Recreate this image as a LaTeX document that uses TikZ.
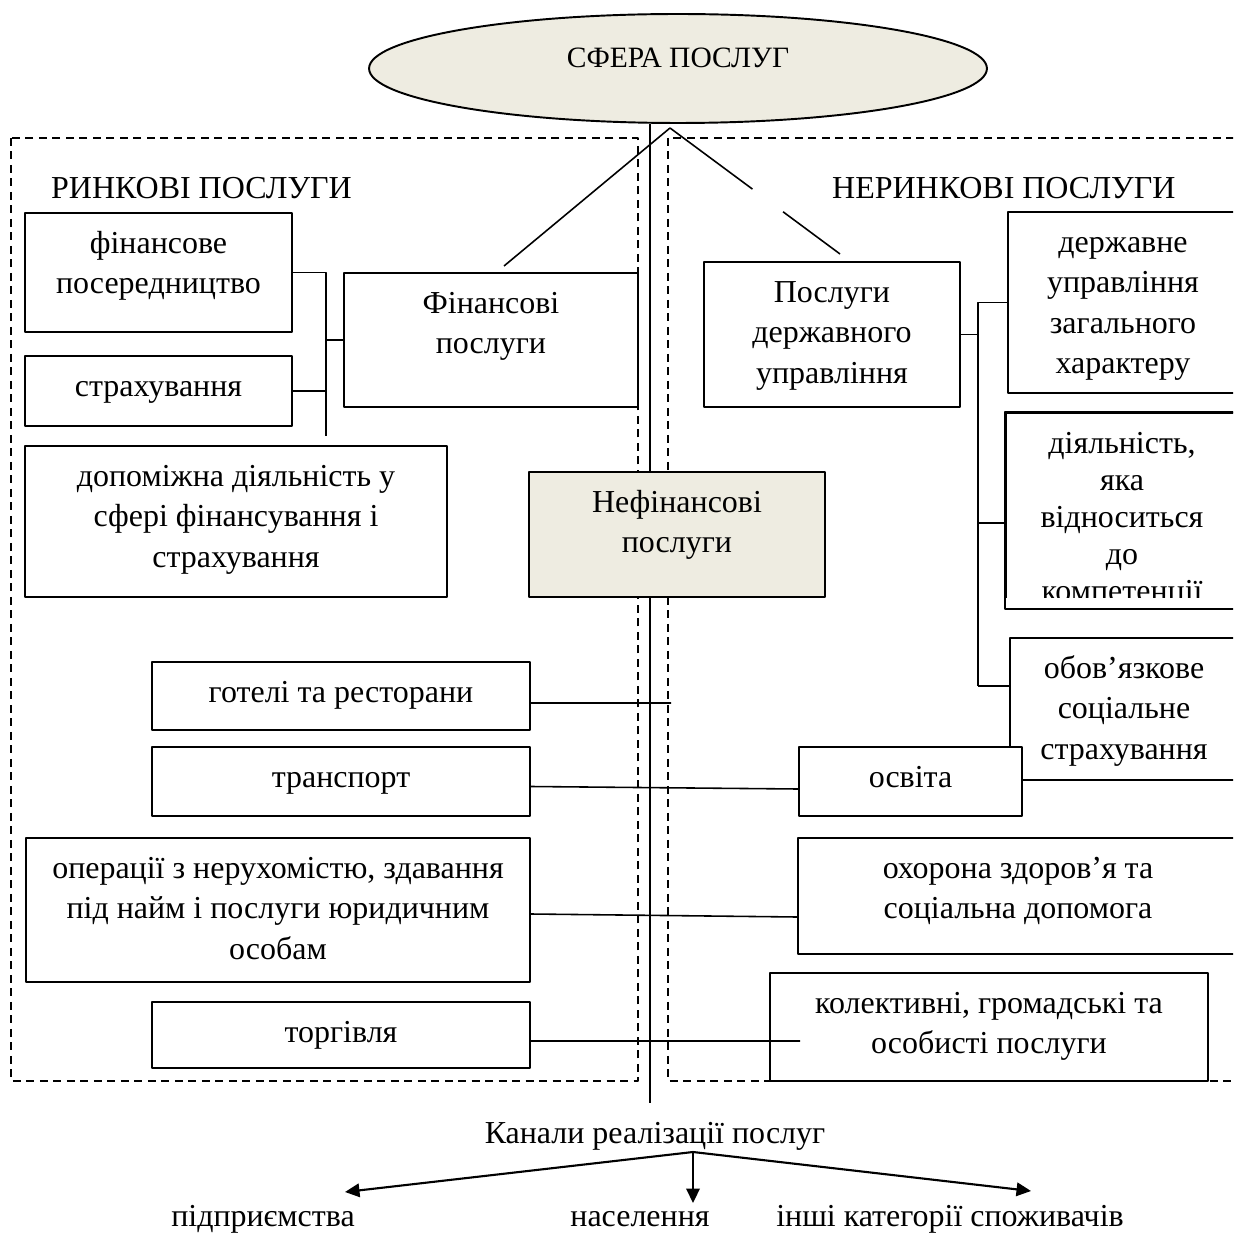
\documentclass[tikz,border=0pt]{standalone}
\usepackage{fontspec}
\setmainfont{Liberation Serif}
\usetikzlibrary{shapes.geometric,calc,arrows.meta}
\definecolor{sphereTan}{HTML}{EEECE1}
\newdimen\pxu \pxu=0.02cm
\newcommand{\boxtext}[3]{\parbox[c][#2\pxu][t]{#1\pxu}{\centering\vspace*{12\pxu}\strut #3}}
\begin{document}
\begin{tikzpicture}[x=0.02cm,y=-0.02cm,line join=round,font=\fontsize{18.2pt}{23pt}\selectfont,
	box/.style={draw,line width=1.1pt,inner sep=0pt,fill=white},
	frame/.style={line width=0.8pt,dash pattern=on 0.16cm off 0.11cm},
	link/.style={line width=0.9pt},
	>={Triangle[length=0.29cm,width=0.27cm]}]
	\useasboundingbox (0,0) rectangle (1233,1236);
	\clip (0,0) rectangle (1233,1236);
	% two groups of services
	\draw[frame] (11,138) rectangle (638,1081);
	\draw[frame] (668,138) rectangle (1250,1081);
	\node[ellipse,draw,line width=1.1pt,fill=sphereTan,minimum width=12.36cm,minimum height=2.18cm,inner sep=0pt,text depth=12pt,font=\fontsize{16.8pt}{20pt}\selectfont] (sphere) at (678,68.5) {СФЕРА ПОСЛУГ};
	\node[anchor=base west] (market) at (45,199) {РИНКОВІ ПОСЛУГИ};
	\node[anchor=base west] (nonmarket) at (826,199) {НЕРИНКОВІ ПОСЛУГИ};
	\coordinate (axis) at (650,1103);
	\coordinate (apex) at (670,128);
	\coordinate (finTop) at (504,266);
	\coordinate (govTop) at (840,254);
	\draw[link] (sphere.south -| axis) -- (axis);
	\draw[link] (apex) -- (finTop);
	\draw[link] (apex) -- ($(apex)!0.485!(govTop)$);
	\draw[link] ($(apex)!0.665!(govTop)$) -- (govTop);
	% left side
	\node[box] (finMed) at (158.5,272.5) {\boxtext{267}{119}{фінансове\\посередництво}};
	\node[box] (insur) at (158.5,391) {\boxtext{267}{70}{страхування}};
	\node[box] (aux) at (236,521.5) {\boxtext{422}{151}{допоміжна діяльність у\\сфері фінансування і\\страхування}};
	\node[box] (fin) at (491,340) {\boxtext{294}{134}{Фінансові\\послуги}};
	\node[box,fill=sphereTan] (nonfin) at (677,534.5) {\boxtext{296}{125}{Нефінансові\\послуги}};
	\node[box] (hotels) at (341,696) {\boxtext{378}{68}{готелі та ресторани}};
	\node[box] (transp) at (341,781.5) {\boxtext{378}{69}{транспорт}};
	\node[box] (realty) at (278,910) {\boxtext{504}{144}{операції з нерухомістю, здавання\\під найм і послуги юридичним\\особам}};
	\node[box] (trade) at (341,1035) {\boxtext{378}{66}{торгівля}};
	% right side
	\node[box] (gov) at (832,334.5) {\boxtext{256}{145}{Послуги\\державного\\управління}};
	\node[box] (public) at (1123,302.5) {\boxtext{230}{181}{державне\\управління\\загального\\характеру}};
	\begin{scope}
		\clip (1000,405) rectangle (1240,597);
		\node[box] (activity) at (1122,510.5) {\boxtext{232}{195}{\setlength{\baselineskip}{37\pxu}діяльність,\\яка\\відноситься\\до\\компетенції}};
	\end{scope}
	\draw[line width=1.1pt] (activity.north west) rectangle (activity.south east);
	\node[box] (social) at (1124,709) {\boxtext{228}{142}{обов’язкове\\соціальне\\страхування}};
	\node[box] (educ) at (910.5,781.5) {\boxtext{223}{69}{освіта}};
	\node[box] (health) at (1018,896) {\boxtext{440}{116}{охорона здоров’я та\\соціальна допомога}};
	\node[box] (collective) at (989,1027) {\boxtext{438}{108}{колективні, громадські та\\особисті послуги}};
	% brackets
	\coordinate (lbar) at (326,436);
	\draw[link] (finMed.east) -| (lbar);
	\draw[link] (insur.east) -- (insur.east -| lbar);
	\draw[link] (fin.west) -- (fin.west -| lbar);
	\coordinate (rbar) at (978,686);
	\coordinate (actStub) at (978,523);
	\draw[link] (public.west) -| (rbar);
	\draw[link] (gov.east) -- (gov.east -| rbar);
	\draw[link] (actStub) -- (actStub -| activity.west);
	\draw[link] (rbar) -- (rbar -| social.west);
	% cross links
	\coordinate (hotelEnd) at (671,703);
	\coordinate (tradeEnd) at (800,1041);
	\draw[link] ([yshift=-0.14cm]hotels.east) -- (hotelEnd);
	\draw[link] ([yshift=-0.1cm]transp.east) -- ([yshift=-0.15cm]educ.west);
	\draw[link] ([yshift=-0.08cm]realty.east) -- ([yshift=-0.42cm]health.west);
	\draw[link] ([yshift=-0.12cm]trade.east) -- (tradeEnd);
	% channels
	\node[anchor=base] (channels) at (655,1143) {Канали реалізації послуг};
	\node[anchor=base] (firms) at (263,1226) {підприємства};
	\node[anchor=base] (people) at (640,1226) {населення};
	\node[anchor=base] (others) at (950,1226) {інші категорії споживачів};
	\coordinate (fork) at (693,1152);
	\coordinate (firmsTip) at (345,1192);
	\coordinate (peopleTip) at (693,1203);
	\coordinate (othersTip) at (1031,1191);
	\draw[->,line width=1.2pt] (fork) -- (firmsTip);
	\draw[->,line width=1.2pt] (fork) -- (peopleTip);
	\draw[->,line width=1.2pt] (fork) -- (othersTip);
\end{tikzpicture}
\end{document}
